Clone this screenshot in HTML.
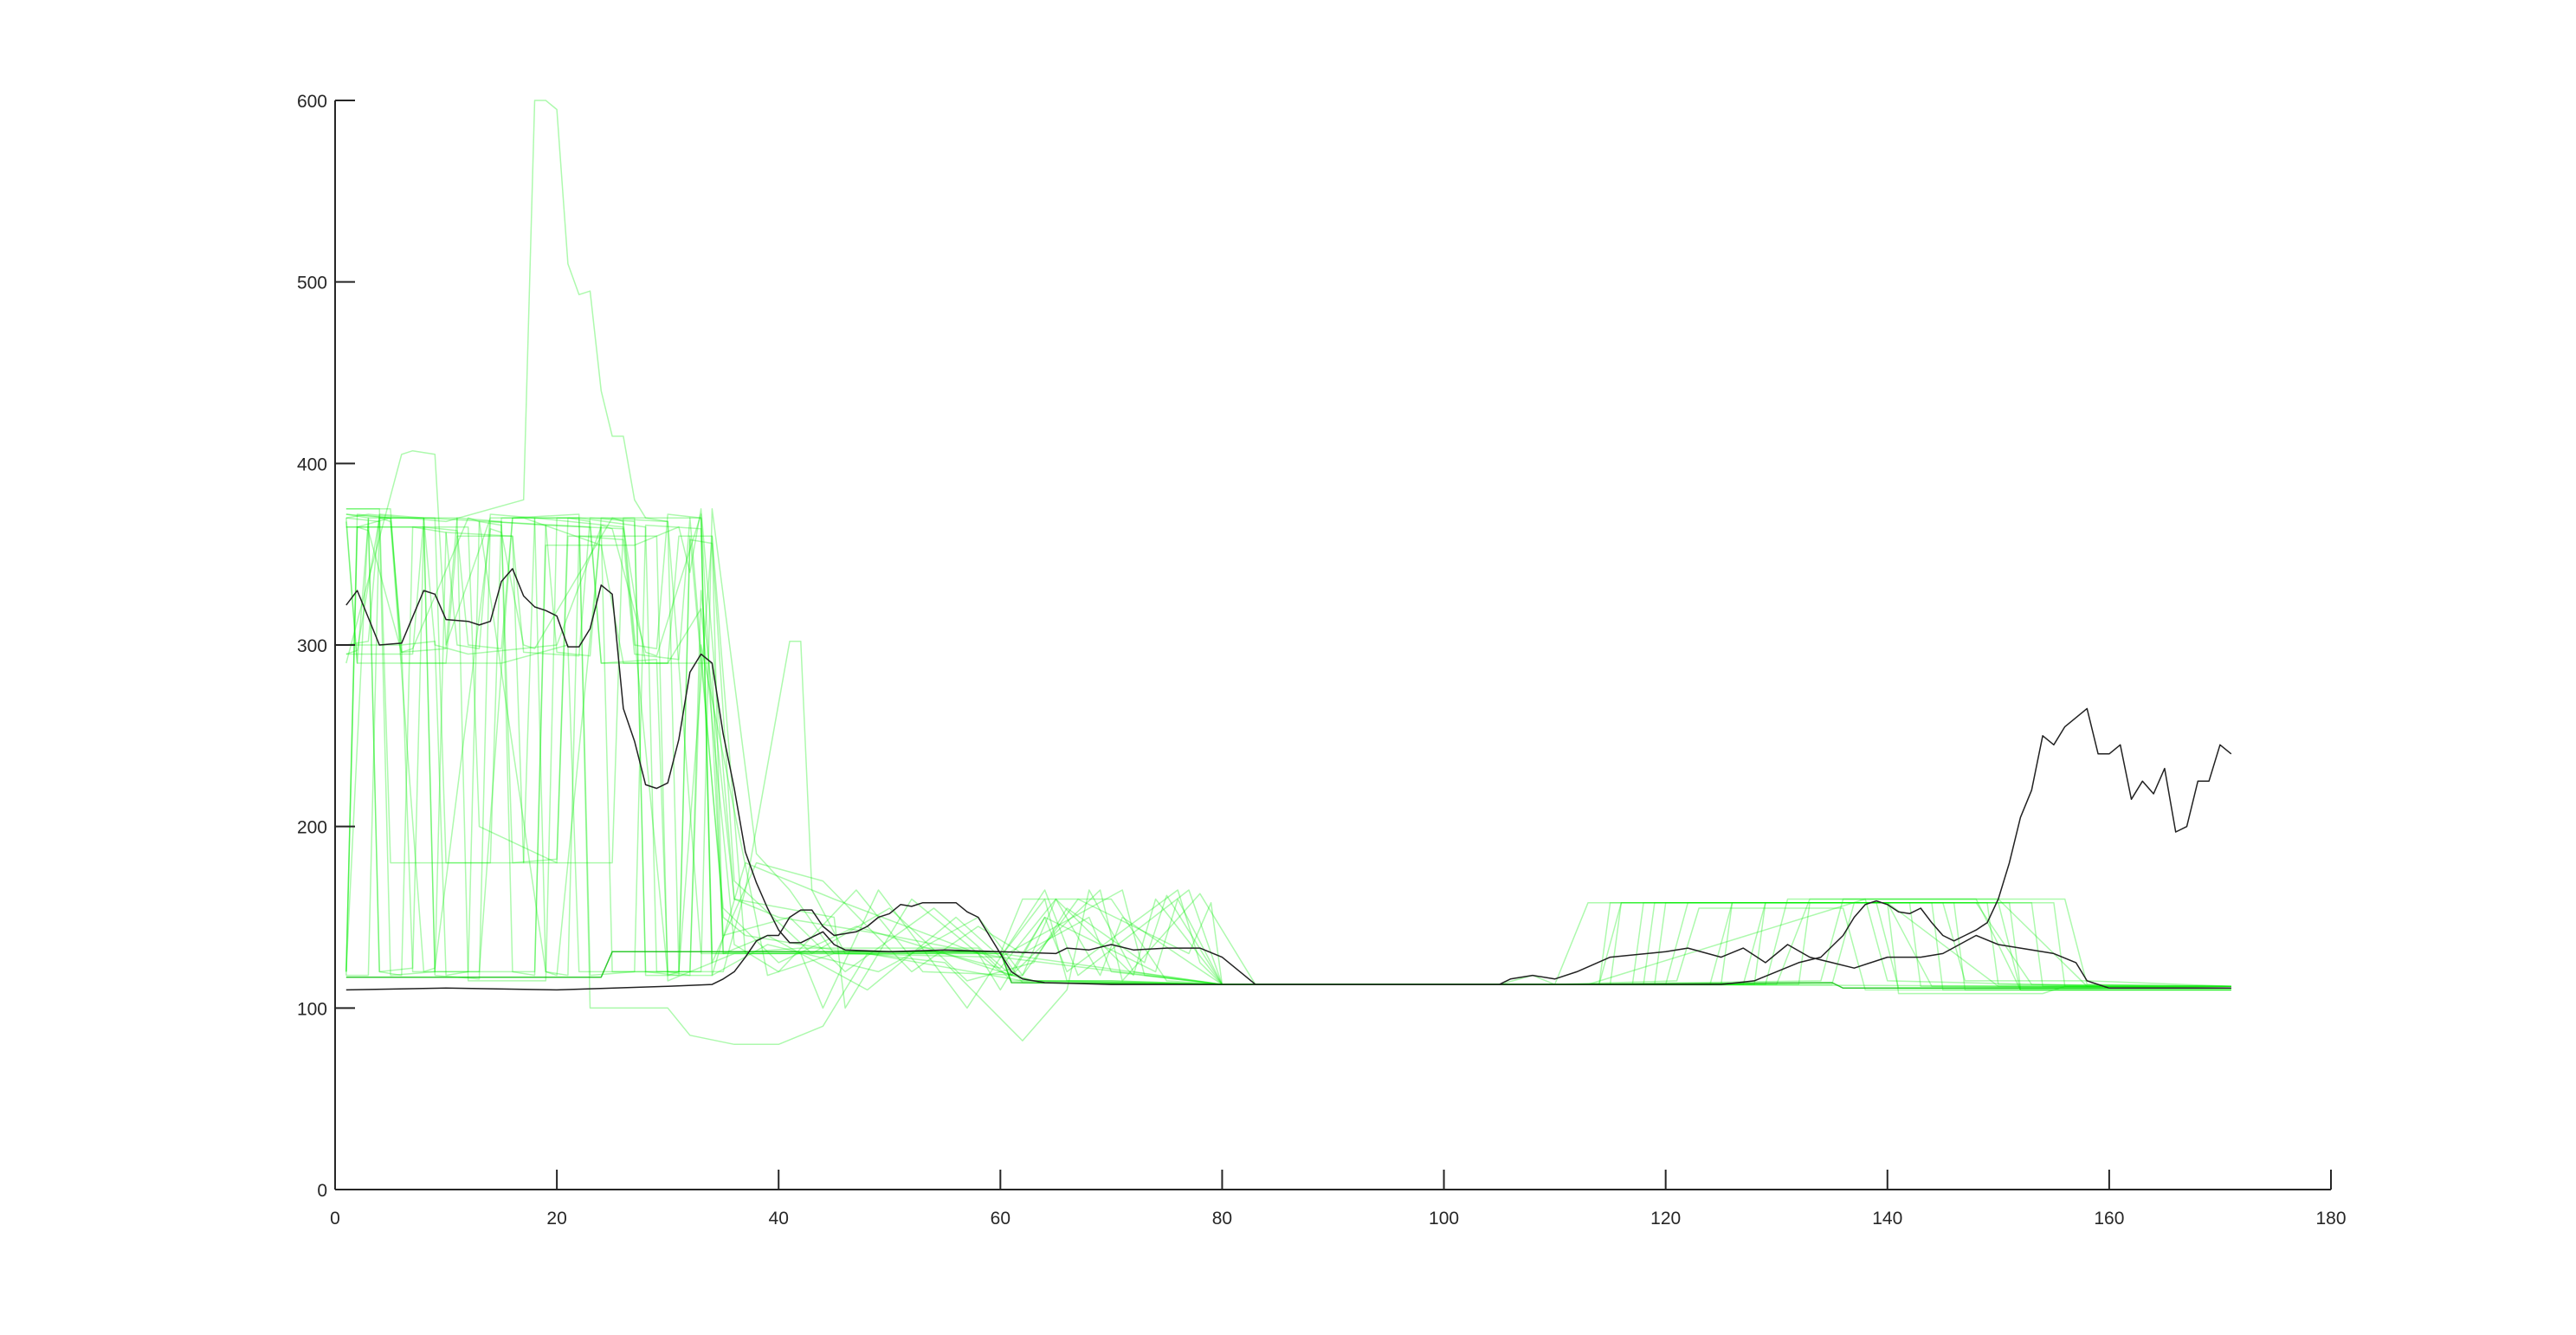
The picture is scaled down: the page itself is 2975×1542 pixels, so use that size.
<!DOCTYPE html>
<html><head><meta charset="utf-8"><style>
html,body{margin:0;padding:0;background:#fff;}
svg{display:block;font-family:"Liberation Sans",sans-serif;}
</style></head><body>
<svg id="chart" width="2975" height="1542" viewBox="0 0 2975 1542">
<rect width="2975" height="1542" fill="#fff"/>
<g id="greens"></g>
<g id="blacks"></g>
<g id="axes"></g>
</svg>
<script>
const xTicks=[0,20,40,60,80,100,120,140,160,180];
const yTicks=[0,100,200,300,400,500,600];
const greenX=[
[1,3,10,17,18,19,20,21,22,23,24,25,26,27,28,30,33,40,45,60,80,110,160,171],
[1,2,5,8,9,12,20,24,25,33,34,38,41,45,60,61,63,70,80,110,113,140,150,171],
[1,6,7,9,10,14,22,23,30,32,36,40,42,44,48,55,62,66,68,72,80,112,130,133,150,158,171],
[1,4,5,14,15,22,28,29,35,37,41,42,43,46,60,62,70,75,80,100,114,116,140,144,171],
[1,3,4,11,12,19,20,27,28,34,37,45,58,60,64,66,76,78,80,110,118,119,148,153,171],
[1,6,7,13,16,17,24,26,30,33,36,40,47,53,62,65,72,74,80,110,120,122,145,147,158,171],
[1,8,9,18,19,27,31,32,33,36,45,46,52,60,61,69,71,78,83,110,124,126,140,141,154,156,171],
[1,2,10,11,16,17,25,26,33,34,38,42,44,49,57,64,67,77,80,110,127,129,150,152,171],
[1,5,6,15,21,22,32,33,39,45,55,60,63,80,105,108,110,113,138,140,160,171],
[1,12,13,20,21,29,30,36,38,44,48,62,70,80,110,129,131,148,152,158,171],
[1,3,9,10,17,18,26,28,34,35,42,58,61,80,110,134,136,156,158,171],
[1,7,8,23,24,30,31,34,37,60,62,80,110,121,123,136,138,160,171],
[1,24,25,60,61,80,110,135,136,171],
[1,2,3,4,6,7,10,11,13,14,18,19,21,22,26,27,31,32,35,37,45,60,80,110,115,116,142,143,171],
[1,2,5,6,9,10,12,13,15,16,20,21,23,24,29,30,32,33,36,40,50,60,64,66,80,110,125,126,146,147,171],
[1,3,4,7,8,11,12,15,16,22,23,27,28,33,34,38,44,52,58,62,68,70,80,110,117,118,151,152,171],
[1,2,4,5,8,9,14,15,17,18,25,26,30,31,34,35,39,48,56,60,71,73,80,110,132,133,155,156,171],
[1,2,3,6,7,12,13,19,20,24,25,28,29,33,35,41,46,54,61,64,74,76,80,110,119,120,149,150,171],
[1,4,5,9,10,16,17,22,23,27,28,31,32,34,36,43,50,57,63,66,73,75,80,110,128,129,144,145,171],
[1,3,4,8,9,13,14,19,20,23,24,30,31,32,35,40,47,55,60,65,69,71,80,110,135,137,153,154,171],
[1,5,6,10,11,15,16,18,19,26,27,29,30,33,34,39,49,58,62,67,77,79,80,110,114,115,139,141,171]
];
const greenY=[
[370,372,368,380,600,600,595,510,493,495,440,415,415,380,370,368,130,130,130,128,113,113,112,112],
[120,365,370,370,300,295,300,365,120,120,375,185,165,130,130,118,115,115,113,113,158,158,112,111],
[290,405,407,405,300,370,370,100,100,85,80,80,85,90,130,125,82,110,165,120,113,113,113,160,160,112,112],
[375,375,180,180,370,370,365,120,120,165,302,302,165,130,130,160,160,115,113,113,113,158,158,112,112],
[118,118,370,370,115,115,370,370,118,118,180,160,130,110,150,120,165,125,113,113,113,158,158,113,112],
[300,300,120,120,370,370,355,290,290,320,135,120,165,120,118,160,118,160,113,113,113,158,158,115,115,112],
[365,365,120,120,355,355,365,340,375,160,150,100,160,120,118,165,115,163,113,113,113,158,158,108,108,112,112],
[370,290,290,360,360,180,180,370,370,130,130,130,100,165,100,165,118,165,113,113,113,158,158,110,110],
[375,375,290,290,300,120,120,300,118,130,130,120,115,113,113,118,113,113,160,115,112,111],
[365,365,200,180,360,360,115,130,130,130,130,115,115,113,113,113,160,160,110,110,110],
[120,370,370,180,180,370,365,290,290,130,133,133,115,113,113,115,160,160,113,112],
[295,295,370,365,290,290,360,360,130,131,114,113,113,115,155,155,110,110,110],
[117,117,131,131,114,113,113,114,111,111],
[368,290,368,120,118,365,362,300,298,372,370,120,118,360,358,295,292,370,150,140,132,130,113,113,113,158,158,112,111],
[120,372,370,300,302,118,120,368,366,180,182,370,368,290,292,120,118,330,160,150,140,128,160,115,113,113,113,158,158,110,110],
[372,370,120,122,365,363,300,298,370,372,118,120,366,364,125,180,170,120,145,130,150,120,113,113,113,158,158,111,111],
[295,297,370,368,120,122,364,362,300,298,370,368,118,120,360,130,140,110,150,128,165,118,113,113,113,158,158,112,111],
[118,365,363,296,298,370,368,120,118,366,364,296,294,372,140,150,120,155,118,150,120,160,113,113,113,158,158,113,112],
[370,368,118,120,362,360,296,294,370,368,120,118,358,356,170,130,155,115,125,155,125,162,113,113,113,158,158,110,110],
[300,302,372,370,118,116,368,366,296,294,370,368,120,360,155,125,145,130,122,160,118,150,113,113,113,158,158,112,112],
[372,370,296,298,370,368,120,118,366,364,300,298,372,370,118,135,120,150,118,160,130,158,113,113,113,158,158,111,111]
];
const blackAX=[1,2,4,6,8,9,10,12,13,14,15,16,17,18,19,20,21,22,23,24,25,26,27,28,29,30,31,32,33,34,35,36,37,38,39,40,41,42,43,44,45,46,50,55,60,65,66,68,70,72,75,78,80,82,83,90,100,105,106,108,110,112,115,120,122,125,127,129,131,133,135,137,140,143,145,148,150,152,155,157,158,160,171];
const blackAY=[322,330,300,301,330,328,314,313,311,313,335,342,327,321,319,316,299,299,309,333,328,265,247,223,221,224,248,285,295,290,251,221,186,169,155,143,136,136,139,142,135,132,131,132,131,130,133,132,135,132,133,133,128,118,113,113,113,113,116,118,116,120,128,131,133,128,133,125,135,128,125,122,128,128,130,140,135,133,130,125,115,111,111];
const blackBX=[1,10,20,30,34,35,36,37,38,39,40,41,42,43,44,45,46,47,48,49,50,51,52,53,54,55,56,57,58,59,60,61,62,63,64,70,80,90,100,110,120,125,128,130,132,134,136,137,138,139,140,141,142,143,144,145,146,147,148,149,150,151,152,153,154,155,156,157,158,159,160,161,162,163,164,165,166,167,168,169,170,171];
const blackBY=[110,111,110,112,113,116,120,128,137,140,140,150,154,154,145,140,141,142,145,150,152,157,156,158,158,158,158,153,150,140,130,120,116,115,114,113,113,113,113,113,113,113,115,120,125,128,140,150,157,159,157,153,152,155,147,140,137,140,143,147,160,180,205,220,250,245,255,260,265,240,240,245,215,225,218,232,197,200,225,225,245,240];
const X0=387,X1=2692,Y0=1374,Y1=116;
const sx=v=>X0+(v-0)/(180-0)*(X1-X0);
const sy=v=>Y0-(v-0)/(600-0)*(Y0-Y1);
const NS="http://www.w3.org/2000/svg";
function mk(tag,attrs,parent){const e=document.createElementNS(NS,tag);for(const k in attrs)e.setAttribute(k,attrs[k]);parent.appendChild(e);return e;}
function pts(xs,ys){return xs.map((x,i)=>sx(x).toFixed(1)+","+sy(ys[i]).toFixed(1)).join(" ");}
const gG=document.getElementById("greens");
greenX.forEach((xs,i)=>{
  const col=(i===12)?"rgba(0,190,0,0.8)":"rgba(0,235,0,0.32)";
  const p=mk("polyline",{points:pts(xs,greenY[i]),fill:"none",stroke:col,"stroke-width":1.5,"stroke-linejoin":"round"},gG);
  
  
});
const bG=document.getElementById("blacks");
const pa=mk("polyline",{points:pts(blackAX,blackAY),fill:"none",stroke:"#222","stroke-width":1.5,"stroke-linejoin":"round"},bG);


const pb=mk("polyline",{points:pts(blackBX,blackBY),fill:"none",stroke:"#222","stroke-width":1.5,"stroke-linejoin":"round"},bG);


const aG=document.getElementById("axes");
const ya=mk("line",{x1:X0,y1:Y1,x2:X0,y2:Y0,stroke:"#262626","stroke-width":2},aG);


const xa=mk("line",{x1:X0,y1:Y0,x2:X1,y2:Y0,stroke:"#262626","stroke-width":2},aG);


xTicks.forEach(t=>{
  const l=mk("line",{x1:sx(t),y1:Y0,x2:sx(t),y2:Y0-23,stroke:"#262626","stroke-width":2},aG);
  
  
  const tx=mk("text",{x:sx(t),y:Y0+40,"text-anchor":"middle","font-size":21,fill:"#262626"},aG);
  tx.textContent=t;
  
  
});
yTicks.forEach(t=>{
  const l=mk("line",{x1:X0,y1:sy(t),x2:X0+23,y2:sy(t),stroke:"#262626","stroke-width":2},aG);
  
  
  const tx=mk("text",{x:X0-9,y:sy(t)+8,"text-anchor":"end","font-size":21,fill:"#262626"},aG);
  tx.textContent=t;
  
  
});
</script>
</body></html>
